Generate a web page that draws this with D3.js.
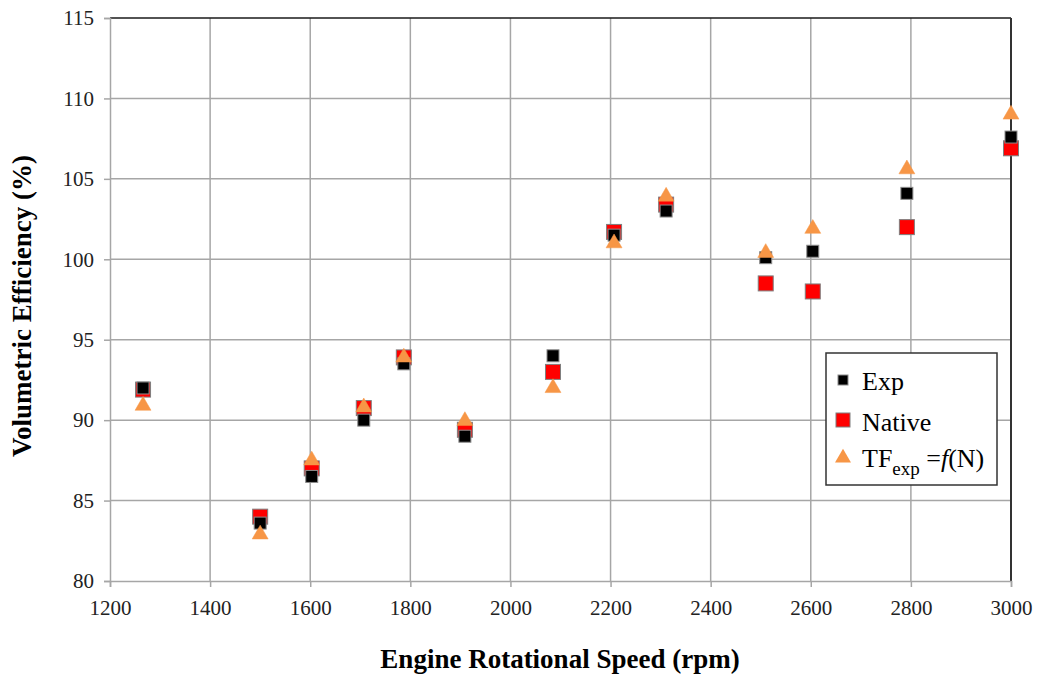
<!DOCTYPE html>
<html><head><meta charset="utf-8">
<script src="https://cdn.jsdelivr.net/npm/d3@7"></script>
<style>body{margin:0;background:#fff;}svg{display:block;}</style>
</head><body>
<svg id="c" width="1042" height="680"></svg>
<script>
const rpm    = [1266, 1500, 1603, 1707, 1787, 1909, 2085, 2207, 2311, 2510, 2604, 2792, 3000];
const expV   = [92.0, 83.6, 86.5, 90.0, 93.5, 89.0, 94.0, 101.5, 103.0, 100.1, 100.5, 104.1, 107.6];
const native = [91.9, 84.0, 87.0, 90.75, 93.9, 89.4, 93.0, 101.7, 103.4, 98.5, 98.0, 102.0, 106.9];
const tfExp  = [90.9, 82.9, 87.5, 90.8, 93.9, 89.95, 92.0, 101.0, 103.9, 100.4, 101.9, 105.6, 109.0];
const xTicks = [1200,1400,1600,1800,2000,2200,2400,2600,2800,3000];
const yTicks = [80,85,90,95,100,105,110,115];

const svg = d3.select("#c");
const L=110, R=1011, T=18, B=581;
const x = d3.scaleLinear().domain([1200,3000]).range([L,R]);
const y = d3.scaleLinear().domain([80,115]).range([B,T]);
const gridC = "#a6a6a6";
const font = "Liberation Serif";

// grid
svg.append("g").selectAll("line").data(xTicks.slice(1,-1)).join("line")
  .attr("x1",d=>x(d)).attr("x2",d=>x(d)).attr("y1",T).attr("y2",B)
  .attr("stroke",gridC).attr("stroke-width",1.5);
svg.append("g").selectAll("line").data(yTicks.slice(1,-1)).join("line")
  .attr("x1",L).attr("x2",R).attr("y1",d=>y(d)).attr("y2",d=>y(d))
  .attr("stroke",gridC).attr("stroke-width",1.5);
// border top/right
svg.append("line").attr("x1",L).attr("x2",R).attr("y1",T).attr("y2",T).attr("stroke","#1a1a1a").attr("stroke-width",1.5);
svg.append("line").attr("x1",R).attr("x2",R).attr("y1",T).attr("y2",B).attr("stroke","#333").attr("stroke-width",2);

// axes
const xAxis = svg.append("g").attr("transform",`translate(0,${B})`)
  .call(d3.axisBottom(x).tickValues(xTicks).tickFormat(d3.format("d")).tickSize(6).tickPadding(13));
const yAxis = svg.append("g").attr("transform",`translate(${L},0)`)
  .call(d3.axisLeft(y).tickValues(yTicks).tickSize(6).tickPadding(10));
[xAxis,yAxis].forEach(g=>{
  g.attr("font-family",font);
  g.select(".domain").attr("stroke",gridC).attr("stroke-width",1.5);
  g.selectAll(".tick line").attr("stroke",gridC).attr("stroke-width",1.5);
  g.selectAll(".tick text").attr("font-family",font).attr("font-size",21).attr("fill","#222");
});

// markers
const ptsN = rpm.map((r,i)=>({r,v:native[i]}));
const ptsE = rpm.map((r,i)=>({r,v:expV[i]}));
const ptsT = rpm.map((r,i)=>({r,v:tfExp[i]}));
const sN=15, sE=12;
svg.append("g").selectAll("rect").data(ptsN).join("rect")
  .attr("x",d=>x(d.r)-sN/2).attr("y",d=>y(d.v)-sN/2).attr("width",sN).attr("height",sN)
  .attr("fill","#ff0000").attr("stroke","#7f7f7f").attr("stroke-width",1);
svg.append("g").selectAll("rect").data(ptsE).join("rect")
  .attr("x",d=>x(d.r)-sE/2).attr("y",d=>y(d.v)-sE/2).attr("width",sE).attr("height",sE)
  .attr("fill","#000").attr("stroke","#8c8c8c").attr("stroke-width",1);
const tri = d3.symbol().type(d3.symbolTriangle).size(110);
svg.append("g").selectAll("path").data(ptsT).join("path")
  .attr("d",tri).attr("transform",d=>`translate(${x(d.r)},${y(d.v)})`)
  .attr("fill","#f79646").attr("stroke","#f79646").attr("stroke-width",0.5);

// axis titles
svg.append("text").attr("x",560).attr("y",668).attr("text-anchor","middle")
  .attr("font-family",font).attr("font-weight","bold").attr("font-size",27)
  .text("Engine Rotational Speed (rpm)");
svg.append("text").attr("transform",`translate(31,306) rotate(-90)`).attr("text-anchor","middle")
  .attr("font-family",font).attr("font-weight","bold").attr("font-size",27)
  .text("Volumetric Efficiency (%)");

// legend
const lg = svg.append("g").attr("font-family",font);
lg.append("rect").attr("x",826).attr("y",353).attr("width",171).attr("height",132)
  .attr("fill","#fff").attr("stroke","#333").attr("stroke-width",1.5);
const lx=843;
lg.append("rect").attr("x",lx-5).attr("y",380-5).attr("width",10).attr("height",10).attr("fill","#000").attr("stroke","#8c8c8c");
lg.append("rect").attr("x",lx-7).attr("y",420-7).attr("width",14).attr("height",14).attr("fill","#ff0000").attr("stroke","#7f7f7f");
lg.append("path").attr("d",tri).attr("transform",`translate(${lx},458)`).attr("fill","#f79646");
lg.append("text").attr("x",862).attr("y",390).attr("font-size",26).text("Exp");
lg.append("text").attr("x",862).attr("y",431).attr("font-size",26).text("Native");
const t3 = lg.append("text").attr("x",862).attr("y",467).attr("font-size",26);
t3.append("tspan").text("TF");
t3.append("tspan").attr("dy",8).attr("font-size",19).text("exp");
t3.append("tspan").attr("dy",-8).text(" =");
t3.append("tspan").attr("font-style","italic").text("f");
t3.append("tspan").text("(N)");
</script>
</body></html>
